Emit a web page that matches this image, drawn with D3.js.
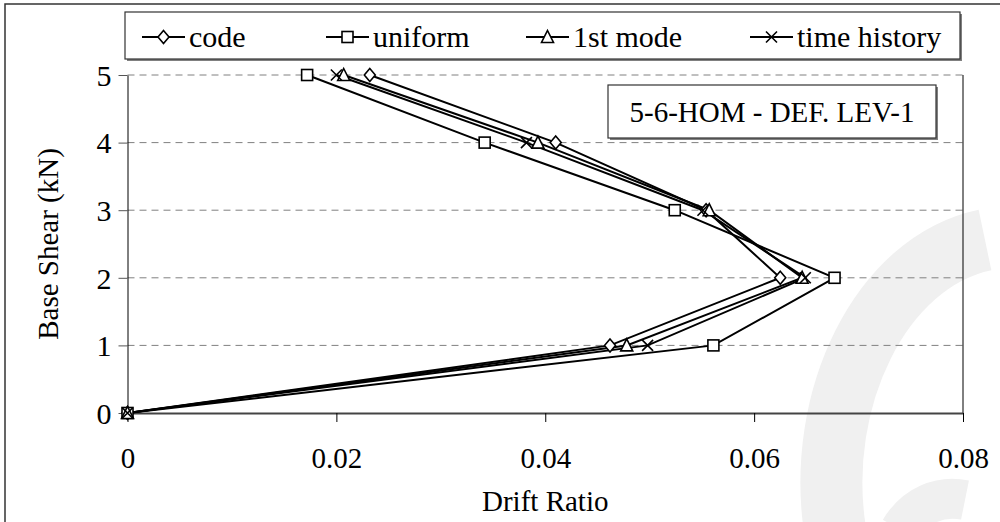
<!DOCTYPE html>
<html>
<head>
<meta charset="utf-8">
<script src="https://cdn.jsdelivr.net/npm/d3@7/dist/d3.min.js"></script>
<style>
html,body{margin:0;padding:0;background:#fff;}
svg{display:block;}
</style>
</head>
<body>
<svg id="chart" width="1000" height="522"></svg>
<script>
// ---- data ----
const shearLevels = [0, 1, 2, 3, 4, 5];
const seriesNames = ["code", "uniform", "1st mode", "time history"];
const codeDrift = [0, 0.0462, 0.0625, 0.0554, 0.0410, 0.0232];
const uniformDrift = [0, 0.0561, 0.0677, 0.0524, 0.0342, 0.0172];
const firstModeDrift = [0, 0.0478, 0.0646, 0.0557, 0.0393, 0.0207];
const timeHistoryDrift = [0, 0.0498, 0.0649, 0.0551, 0.0382, 0.0200];
const xTicks = [0, 0.02, 0.04, 0.06, 0.08];
const yTicks = [0, 1, 2, 3, 4, 5];
const xTickLabels = ["0", "0.02", "0.04", "0.06", "0.08"];
const yTickLabels = ["0", "1", "2", "3", "4", "5"];
const xTitle = "Drift Ratio";
const yTitle = "Base Shear (kN)";
const annotation = "5-6-HOM - DEF. LEV-1";

const series = [
  {name: seriesNames[0], values: codeDrift, marker: "diamond"},
  {name: seriesNames[1], values: uniformDrift, marker: "square"},
  {name: seriesNames[2], values: firstModeDrift, marker: "triangle"},
  {name: seriesNames[3], values: timeHistoryDrift, marker: "cross"}
];

const FONT = '"Liberation Serif"';
const svg = d3.select("#chart");
const W = 1000, H = 522;
const plot = {left: 127.5, right: 963, top: 75, bottom: 413};

const x = d3.scaleLinear().domain([0, 0.08]).range([plot.left, plot.right]);
const y = d3.scaleLinear().domain([0, 5]).range([plot.bottom, plot.top]);

// watermark shape (light gray)
svg.append("path")
  .attr("d", "M 985,240 C 880,262 815,400 835,530")
  .attr("fill", "none").attr("stroke", "#f0f0f0").attr("stroke-width", 62);
svg.append("path")
  .attr("d", "M 900,530 C 915,505 940,495 965,500")
  .attr("fill", "none").attr("stroke", "#f0f0f0").attr("stroke-width", 40);

// outer frame
svg.append("path").attr("d", `M5,${H+2} L5,4 L${W+2},4`)
  .attr("fill", "none").attr("stroke", "#333").attr("stroke-width", 1.5);

// gridlines
svg.append("g").selectAll("line").data(yTicks.filter(d => d > 0)).join("line")
  .attr("x1", plot.left).attr("x2", plot.right)
  .attr("y1", d => y(d)).attr("y2", d => y(d))
  .attr("stroke", "#808080").attr("stroke-width", 1).attr("stroke-dasharray", "7,5");

// right border of plot
svg.append("line").attr("x1", plot.right).attr("x2", plot.right)
  .attr("y1", plot.top).attr("y2", plot.bottom).attr("stroke", "#000").attr("stroke-width", 1);

// axes
const xAxis = d3.axisBottom(x).tickValues(xTicks).tickFormat((d, i) => xTickLabels[i]).tickSize(9).tickSizeOuter(0);
const yAxis = d3.axisLeft(y).tickValues(yTicks).tickFormat((d, i) => yTickLabels[i]).tickSize(9).tickSizeOuter(0);

const gx = svg.append("g").attr("transform", `translate(0,${plot.bottom})`).call(xAxis);
gx.attr("font-family", null);
gx.select(".domain").attr("stroke", "#444").attr("stroke-width", 2);
gx.selectAll(".tick line").attr("stroke", "#000");
gx.selectAll(".tick text").attr("font-size", 29).attr("fill", "#000")
  .style("font-family", FONT).attr("y", 55).attr("dy", 0);

const gy = svg.append("g").attr("transform", `translate(${plot.left},0)`).call(yAxis);
gy.attr("font-family", null);
gy.select(".domain").attr("stroke", "#000").attr("stroke-width", 1);
gy.selectAll(".tick line").attr("stroke", "#555");
gy.selectAll(".tick text").attr("font-size", 30).attr("fill", "#000")
  .style("font-family", FONT).attr("x", -16).attr("dy", "0.34em");

// axis titles
svg.append("text").attr("x", (plot.left + plot.right) / 2).attr("y", 511)
  .attr("text-anchor", "middle").attr("font-size", 29).style("font-family", FONT).text(xTitle);
svg.append("text").attr("transform", `translate(58,${(plot.top + plot.bottom) / 2}) rotate(-90)`)
  .attr("text-anchor", "middle").attr("font-size", 29).style("font-family", FONT).text(yTitle);

// marker generator
function drawMarker(g, type, cx, cy) {
  const s = 5.5;
  if (type === "diamond") {
    g.append("path").attr("d", `M${cx},${cy - s - 1} L${cx + s},${cy} L${cx},${cy + s + 1} L${cx - s},${cy} Z`)
      .attr("fill", "#fff").attr("stroke", "#000").attr("stroke-width", 1.6);
  } else if (type === "square") {
    g.append("rect").attr("x", cx - s).attr("y", cy - s).attr("width", 2 * s).attr("height", 2 * s)
      .attr("fill", "#fff").attr("stroke", "#000").attr("stroke-width", 1.6);
  } else if (type === "triangle") {
    g.append("path").attr("d", `M${cx},${cy - s - 1} L${cx + s + 0.5},${cy + s} L${cx - s - 0.5},${cy + s} Z`)
      .attr("fill", "#fff").attr("stroke", "#000").attr("stroke-width", 1.6);
  } else if (type === "cross") {
    g.append("path").attr("d", `M${cx - s},${cy - s} L${cx + s},${cy + s} M${cx + s},${cy - s} L${cx - s},${cy + s}`)
      .attr("fill", "none").attr("stroke", "#000").attr("stroke-width", 1.6);
  }
}

// series lines
const line = d3.line().x(d => x(d.v)).y(d => y(d.s));
series.forEach(sr => {
  const pts = sr.values.map((v, i) => ({v: v, s: shearLevels[i]}));
  svg.append("path").datum(pts).attr("d", line)
    .attr("fill", "none").attr("stroke", "#000").attr("stroke-width", 2);
});
series.forEach(sr => {
  const g = svg.append("g");
  sr.values.forEach((v, i) => drawMarker(g, sr.marker, x(v), y(shearLevels[i])));
});

// legend
const legend = svg.append("g");
legend.append("rect").attr("x", 127).attr("y", 14).attr("width", 835).attr("height", 47)
  .attr("fill", "#808080");
legend.append("rect").attr("x", 125).attr("y", 12).attr("width", 835).attr("height", 47)
  .attr("fill", "#fff").attr("stroke", "#333").attr("stroke-width", 1.2);
const legendX = [142, 326, 526, 750];
series.forEach((sr, i) => {
  const lx = legendX[i];
  const ly = 37;
  legend.append("line").attr("x1", lx).attr("x2", lx + 43).attr("y1", ly).attr("y2", ly)
    .attr("stroke", "#000").attr("stroke-width", 2);
  drawMarker(legend, sr.marker, lx + 21.5, ly);
  legend.append("text").attr("x", lx + 47).attr("y", 47).attr("font-size", 30)
    .style("font-family", FONT).text(sr.name);
});

// annotation box
const ann = svg.append("g");
ann.append("rect").attr("x", 610).attr("y", 87).attr("width", 328).attr("height", 53).attr("fill", "#808080");
ann.append("rect").attr("x", 608).attr("y", 85).attr("width", 328).attr("height", 53)
  .attr("fill", "#fff").attr("stroke", "#333").attr("stroke-width", 1.2);
ann.append("text").attr("x", 772).attr("y", 122).attr("text-anchor", "middle").attr("font-size", 29)
  .style("font-family", FONT).text(annotation);
</script>
</body>
</html>
